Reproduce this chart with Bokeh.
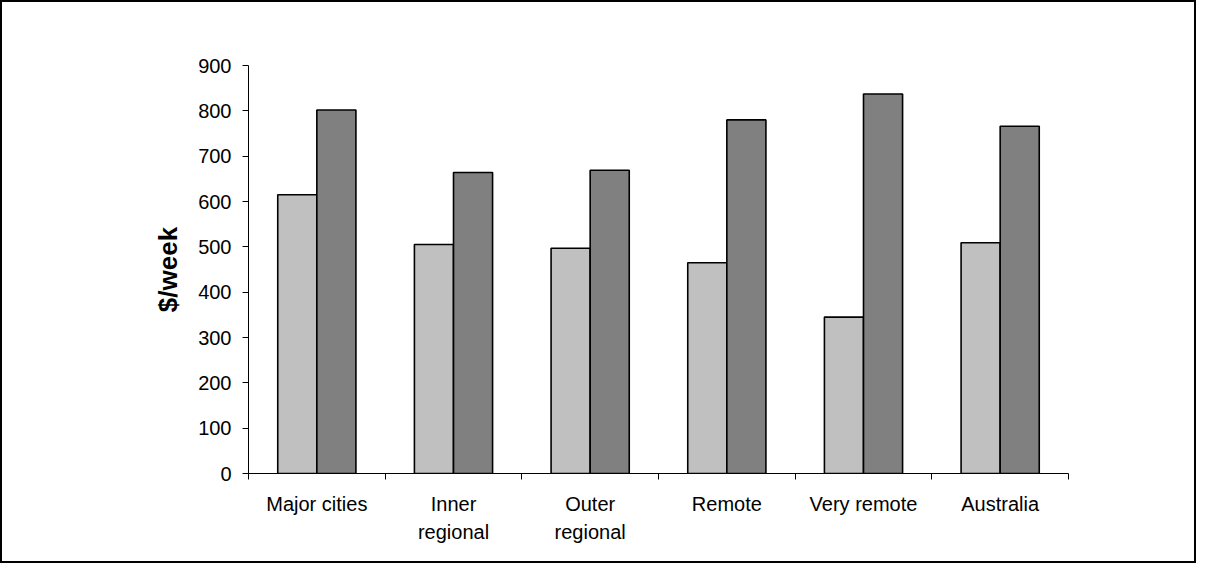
from bokeh.plotting import figure
from bokeh.models import ColumnDataSource, Range1d, FixedTicker
from bokeh.transform import dodge
from bokeh.embed import file_html
from bokeh.resources import INLINE

categories = ["Major cities", "Inner\nregional", "Outer\nregional", "Remote", "Very remote", "Australia"]
series_a = [615, 505, 497, 465, 345, 509]
series_b = [802, 664, 669, 780, 837, 766]
y_ticks = [0, 100, 200, 300, 400, 500, 600, 700, 800, 900]

FONT = "Liberation Sans"
W, H = 1192, 559

pos = [i + 0.5 for i in range(len(categories))]
src = ColumnDataSource(dict(x=pos, a=series_a, b=series_b))

p = figure(width=W, height=H, output_backend="svg", toolbar_location=None,
           x_range=Range1d(0, len(categories)), y_range=Range1d(0, 900),
           min_border_left=246, min_border_right=130, min_border_top=63, min_border_bottom=92)
p.xgrid.visible = False
p.ygrid.visible = False
p.outline_line_color = None
p.background_fill_color = "white"
p.border_fill_color = "white"
p.styles = {"border": "2px solid black", "box-sizing": "content-box"}

bw = 0.286
p.vbar(x=dodge("x", -bw / 2, range=p.x_range), top="a", width=bw, source=src,
       fill_color="#C0C0C0", line_color="black", line_width=1.6)
p.vbar(x=dodge("x", bw / 2, range=p.x_range), top="b", width=bw, source=src,
       fill_color="#808080", line_color="black", line_width=1.6)

# x axis: labels at centres, ticks at category boundaries
xa = p.xaxis[0]
xa.ticker = FixedTicker(ticks=pos, minor_ticks=list(range(len(categories) + 1)))
xa.major_label_overrides = {v: c for v, c in zip(pos, categories)}
xa.major_tick_out = 0
xa.major_tick_in = 0
xa.minor_tick_out = 6
xa.minor_tick_in = 0
xa.minor_tick_line_color = "black"
xa.axis_line_color = "black"
xa.major_label_text_font = FONT
xa.major_label_text_font_size = "20px"
xa.major_label_text_color = "black"
xa.major_label_standoff = 13
xa.major_label_text_line_height = 1.3

ya = p.yaxis[0]
ya.ticker = FixedTicker(ticks=y_ticks, minor_ticks=[])
ya.major_tick_out = 6
ya.major_tick_in = 0
ya.major_tick_line_color = "black"
ya.axis_line_color = "black"
ya.major_label_text_font = FONT
ya.major_label_text_font_size = "20px"
ya.major_label_text_color = "black"
ya.major_label_standoff = 11
ya.axis_label = "$/week"
ya.axis_label_text_font = FONT
ya.axis_label_text_font_size = "26px"
ya.axis_label_text_font_style = "bold"
ya.axis_label_text_color = "black"
ya.axis_label_standoff = 12

open("out.html", "w").write(file_html(p, INLINE))
